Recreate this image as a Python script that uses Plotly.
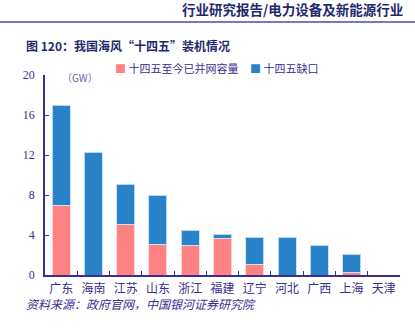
import plotly.graph_objects as go

provinces = ["广东", "海南", "江苏", "山东", "浙江", "福建", "辽宁", "河北", "广西", "上海", "天津"]
connected = [7.0, 0.0, 5.1, 3.1, 3.0, 3.7, 1.1, 0.0, 0.0, 0.3, 0.0]
gap = [10.0, 12.3, 4.0, 4.9, 1.5, 0.4, 2.7, 3.8, 3.0, 1.8, 0.0]
y_ticks = [0, 4, 8, 12, 16, 20]

RED = "#FF8282"
BLUE = "#2A83C8"
INK = "#3A2E8E"
CJK = "Noto Sans CJK SC"
SERIF = "Liberation Serif"

fig = go.Figure()
fig.add_bar(x=provinces, y=connected, name="十四五至今已并网容量",
            marker=dict(color=RED, line=dict(color="rgba(255,220,220,0.9)", width=1)),
            width=0.56, showlegend=False)
fig.add_bar(x=provinces, y=gap, name="十四五缺口",
            marker=dict(color=BLUE, line=dict(color="rgba(200,225,245,0.9)", width=1)),
            width=0.56, showlegend=False)

L, R, T, B = 45, 15, 75, 57
pw, ph = 415 - L - R, 332 - T - B

fig.update_layout(
    width=415, height=332,
    margin=dict(l=L, r=R, t=T, b=B),
    paper_bgcolor="white", plot_bgcolor="white",
    barmode="stack",
    font=dict(family=CJK, color=INK, size=12),
)
fig.update_xaxes(
    showline=True, linecolor=INK, linewidth=1.5,
    ticks="inside", tickson="boundaries", ticklen=4, tickcolor=INK,
    tickfont=dict(family=CJK, size=12, color=INK), tickangle=0,
    showgrid=False, range=[-0.5, 10.5], ticklabelstandoff=2,
)
fig.update_yaxes(
    range=[0, 20], tickvals=y_ticks, ticktext=[str(v) for v in y_ticks],
    showline=True, linecolor=INK, linewidth=1.5,
    ticks="inside", ticklen=4, tickcolor=INK,
    tickfont=dict(family=SERIF, size=12, color=INK),
    showgrid=False, zeroline=False, ticklabelstandoff=6,
)

anns = [
    dict(x=405, y=9, text="<b>行业研究报告/电力设备及新能源行业</b>",
         font=dict(family=CJK, size=13.5, color="#1F2A6E"), xanchor="right"),
    dict(x=24, y=45, text="<b>图 120：我国海风“十四五”装机情况</b>",
         font=dict(family=CJK, size=12, color="#1F2A6E"), xanchor="left"),
    dict(x=60, y=77, text="（GW）",
         font=dict(family=CJK, size=10, color="#6A6AA8"), xanchor="left"),
    dict(x=113, y=68, text=f"<span style='color:{RED}'>■</span> 十四五至今已并网容量",
         font=dict(family=CJK, size=11, color=INK), xanchor="left"),
    dict(x=248, y=68, text=f"<span style='color:{BLUE}'>■</span> 十四五缺口",
         font=dict(family=CJK, size=11, color=INK), xanchor="left"),
    dict(x=24, y=303, text="<i>资料来源：政府官网，中国银河证券研究院</i>",
         font=dict(family=CJK, size=12, color=INK), xanchor="left"),
]
for a in anns:
    fig.add_annotation(
        x=(a["x"] - L) / pw, y=(332 - B - a["y"]) / ph, xref="paper", yref="paper",
        xanchor=a["xanchor"], yanchor="middle", text=a["text"], font=a["font"],
        showarrow=False,
    )
fig.add_shape(type="line", xref="paper", yref="paper",
              x0=(0 - L) / pw, x1=(415 - L) / pw,
              y0=(332 - B - 22) / ph, y1=(332 - B - 22) / ph,
              line=dict(color="#4B4BA8", width=1.5))

fig.write_html("out.html")
